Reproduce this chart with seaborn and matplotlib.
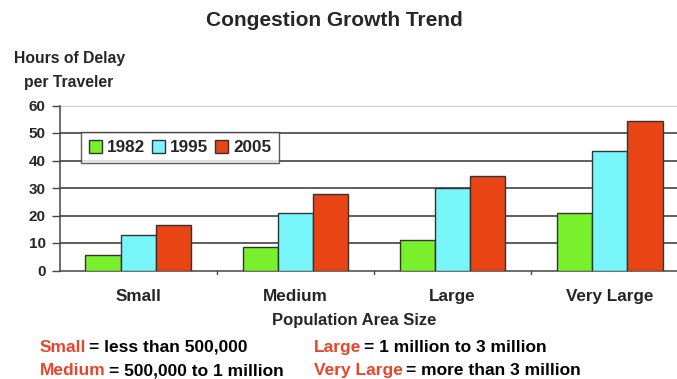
import matplotlib
matplotlib.use("Agg")
import matplotlib.pyplot as plt
import seaborn as sns
import pandas as pd

categories = ["Small", "Medium", "Large", "Very Large"]
years = ["1982", "1995", "2005"]
delay_1982 = [5.5, 8.5, 11, 21]
delay_1995 = [13, 21, 30, 43.5]
delay_2005 = [16.5, 28, 34.5, 54.5]
y_ticks = [0, 10, 20, 30, 40, 50, 60]

palette = {"1982": "#78F02C", "1995": "#78F6FA", "2005": "#E84414"}
red_text = "#E8452C"

rows = []
for yr, vals in zip(years, [delay_1982, delay_1995, delay_2005]):
    for cat, v in zip(categories, vals):
        rows.append({"size": cat, "year": yr, "hours": v})
df = pd.DataFrame(rows)

sns.set_style("white")
plt.rcParams["font.family"] = ["Liberation Sans", "DejaVu Sans"]
plt.rcParams["font.weight"] = "bold"

W, H = 677, 379
fig = plt.figure(figsize=(W / 100, H / 100), dpi=100)
left, right, top, bottom = 59.5, 688.5, 105.5, 270.5
ax = fig.add_axes([left / W, 1 - bottom / H, (right - left) / W, (bottom - top) / H])

sns.barplot(data=df, x="size", y="hours", hue="year", order=categories,
            hue_order=years, palette=palette, width=0.67, saturation=1,
            edgecolor="#333333", linewidth=1.0, ax=ax, zorder=3)

ax.set_ylim(0, 60)
ax.set_xlim(-0.5, 3.5)
ax.set_yticks(y_ticks)
ax.set_yticklabels([str(t) for t in y_ticks], fontsize=11, fontweight="bold")
ax.set_xticks(range(len(categories)))
ax.set_xticklabels(categories, fontsize=12.3, fontweight="bold")
ax.tick_params(axis="x", length=0, pad=13)
ax.tick_params(axis="y", length=6, width=1, color="#444444", direction="out", pad=4, left=True)
# tick marks between category groups
for xb in [0.5, 1.5, 2.5]:
    ax.plot([xb, xb], [0, -1.3], color="#444444", lw=1, clip_on=False, zorder=4)

for t in y_ticks[1:-1]:
    ax.axhline(t, color="#333333", lw=1.1, zorder=1)
ax.axhline(60, color="#BBBBBB", lw=1.1, zorder=1)

for s in ["top", "right"]:
    ax.spines[s].set_visible(False)
ax.spines["left"].set_color("#444444")
ax.spines["bottom"].set_color("#444444")
ax.spines["left"].set_linewidth(1.1)
ax.spines["bottom"].set_linewidth(1.1)
ax.set_xlabel("")
ax.set_ylabel("")

handles, labels = ax.get_legend_handles_labels()
leg = ax.legend(handles, labels, ncol=3, loc="lower left",
                bbox_to_anchor=((81 - left) / (right - left), (bottom - 163) / (bottom - top),
                                (279 - 81) / (right - left), (163 - 127) / (bottom - top)),
                mode="expand", frameon=True, fancybox=False, borderpad=0.45,
                borderaxespad=0, handlelength=0.75, handleheight=0.75, handletextpad=0.3,
                columnspacing=0.4, prop={"weight": "bold", "size": 12.3})
leg.get_frame().set_edgecolor("#333333")
leg.get_frame().set_linewidth(1.0)
leg.set_zorder(5)

fig.text(334 / W, 1 - 20 / H, "Congestion Growth Trend", ha="center", va="center",
         fontsize=15, fontweight="bold")
fig.text(14 / W, 1 - 58 / H, "Hours of Delay", ha="left", va="center",
         fontsize=11.3, fontweight="bold")
fig.text(24 / W, 1 - 83 / H, "per Traveler", ha="left", va="center",
         fontsize=11.3, fontweight="bold")
fig.text(354 / W, 1 - 321 / H, "Population Area Size", ha="center", va="center",
         fontsize=12, fontweight="bold")

# size-class definitions: red key word followed by black description on one baseline
notes = [
    (40, 352, "Small", "= less than 500,000"),
    (40, 375, "Medium", "= 500,000 to 1 million"),
    (314, 352, "Large", "= 1 million to 3 million"),
    (314, 375, "Very Large", "= more than 3 million"),
]
renderer = fig.canvas.get_renderer()
for x, y, key, rest in notes:
    t = fig.text(x / W, 1 - y / H, key, ha="left", va="baseline", fontsize=12.5,
                 fontweight="bold", color=red_text)
    x1 = t.get_window_extent(renderer).x1
    fig.text((x1 + 3) / W, 1 - y / H, rest, ha="left", va="baseline", fontsize=12.5,
             fontweight="bold", color="black")

fig.savefig("out.png", dpi=100)
